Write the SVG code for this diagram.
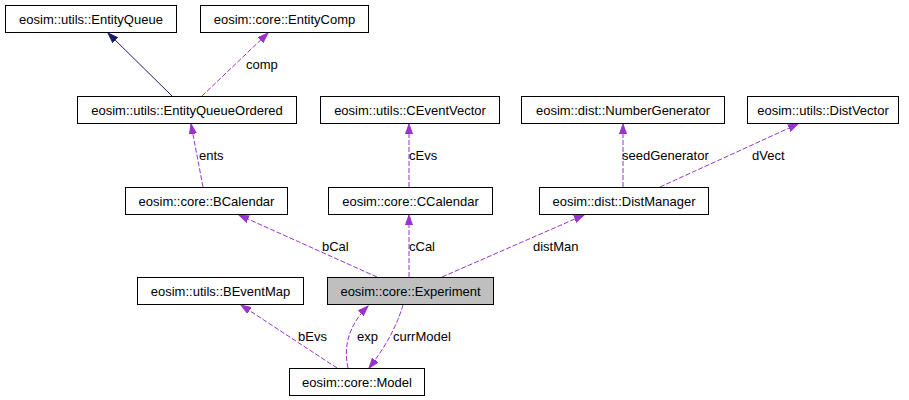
<svg xmlns="http://www.w3.org/2000/svg" width="909" height="400" viewBox="0 0 909 400">
<style>
.box{fill:#ffffff;stroke:#000000;stroke-width:1}
.hl{fill:#bfbfbf}
.t{font-family:"Liberation Sans",Arial,sans-serif;font-size:13px;fill:#000000;text-anchor:middle}
.l{font-family:"Liberation Sans",Arial,sans-serif;font-size:13px;fill:#000000}
.e{fill:none;stroke:#9a32cd;stroke-width:1;stroke-dasharray:5,2}
.s{fill:none;stroke:#191970;stroke-width:1}
</style>
<defs>
<marker id="ap" markerUnits="userSpaceOnUse" markerWidth="11" markerHeight="8" refX="10" refY="4" orient="auto" viewBox="0 0 11 8">
<path d="M0,0.5 L10,4 L0,7.5 z" fill="#9a32cd" stroke="#9a32cd"/>
</marker>
<marker id="an" markerUnits="userSpaceOnUse" markerWidth="11" markerHeight="8" refX="10" refY="4" orient="auto" viewBox="0 0 11 8">
<path d="M0,0.5 L10,4 L0,7.5 z" fill="#191970" stroke="#191970"/>
</marker>
</defs>
<g id="connectors">
<path class="s" d="M172,96 L108,33" marker-end="url(#an)"/>
<path class="e" d="M202,96 L268,33" marker-end="url(#ap)"/>
<path class="e" d="M203,187 L191,124" marker-end="url(#ap)"/>
<path class="e" d="M409,187 L409,124" marker-end="url(#ap)"/>
<path class="e" d="M623,187 L623,124" marker-end="url(#ap)"/>
<path class="e" d="M660,187 L798,124" marker-end="url(#ap)"/>
<path class="e" d="M377,277 L239,215" marker-end="url(#ap)"/>
<path class="e" d="M409,277 L409,215" marker-end="url(#ap)"/>
<path class="e" d="M442,277 L584,215" marker-end="url(#ap)"/>
<path class="e" d="M337,368 L241,305" marker-end="url(#ap)"/>
<path class="e" d="M348,368 C344,350 346,328 368,306" marker-end="url(#ap)"/>
<path class="e" d="M403,305 C398,322 388,344 369,368" marker-end="url(#ap)"/>
<text class="l" x="246" y="69">comp</text>
<text class="l" x="199" y="160">ents</text>
<text class="l" x="409" y="160">cEvs</text>
<text class="l" x="622" y="160">seedGenerator</text>
<text class="l" x="752" y="160">dVect</text>
<text class="l" x="322" y="251">bCal</text>
<text class="l" x="409" y="251">cCal</text>
<text class="l" x="533" y="251">distMan</text>
<text class="l" x="298" y="341">bEvs</text>
<text class="l" x="357" y="341">exp</text>
<text class="l" x="393" y="341">currModel</text>
</g>
<g id="EntityQueue"><rect class="box" x="5.5" y="5.5" width="171" height="27"/><text class="t" x="91" y="24">eosim::utils::EntityQueue</text></g>
<g id="EntityComp"><rect class="box" x="200.5" y="5.5" width="168" height="27"/><text class="t" x="284.5" y="24">eosim::core::EntityComp</text></g>
<g id="EntityQueueOrdered"><rect class="box" x="77.5" y="96.5" width="219" height="27"/><text class="t" x="187" y="115">eosim::utils::EntityQueueOrdered</text></g>
<g id="CEventVector"><rect class="box" x="320.5" y="96.5" width="179" height="27"/><text class="t" x="410" y="115">eosim::utils::CEventVector</text></g>
<g id="NumberGenerator"><rect class="box" x="521.5" y="96.5" width="203" height="27"/><text class="t" x="623" y="115">eosim::dist::NumberGenerator</text></g>
<g id="DistVector"><rect class="box" x="747.5" y="96.5" width="151" height="27"/><text class="t" x="823" y="115">eosim::utils::DistVector</text></g>
<g id="BCalendar"><rect class="box" x="125.5" y="187.5" width="162" height="27"/><text class="t" x="206.5" y="206">eosim::core::BCalendar</text></g>
<g id="CCalendar"><rect class="box" x="328.5" y="187.5" width="164" height="27"/><text class="t" x="410.5" y="206">eosim::core::CCalendar</text></g>
<g id="DistManager"><rect class="box" x="539.5" y="187.5" width="169" height="27"/><text class="t" x="624" y="206">eosim::dist::DistManager</text></g>
<g id="BEventMap"><rect class="box" x="137.5" y="277.5" width="166" height="27"/><text class="t" x="220.5" y="296">eosim::utils::BEventMap</text></g>
<g id="Experiment"><rect class="box hl" x="327.5" y="277.5" width="166" height="27"/><text class="t" x="410.5" y="296">eosim::core::Experiment</text></g>
<g id="Model"><rect class="box" x="289.5" y="368.5" width="135" height="27"/><text class="t" x="357" y="387">eosim::core::Model</text></g>
</svg>
